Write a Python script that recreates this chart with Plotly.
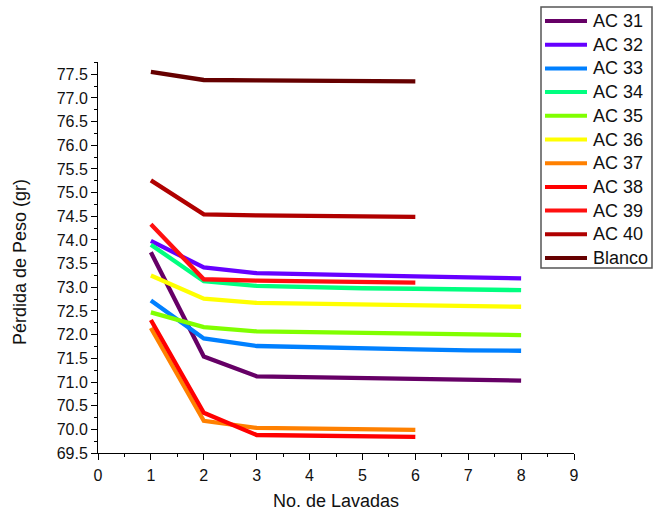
import plotly.graph_objects as go

# Washes (x) and weight-loss series (y), one list per sample
lavadas_6 = [1, 2, 3, 4, 5, 6]
lavadas_8 = [1, 2, 3, 4, 5, 6, 7, 8]

ac31 = [73.74, 71.54, 71.12, 71.10, 71.08, 71.06, 71.05, 71.03]
ac32 = [73.98, 73.42, 73.30, 73.27, 73.25, 73.23, 73.21, 73.19]
ac33 = [72.72, 71.92, 71.76, 71.73, 71.71, 71.69, 71.67, 71.66]
ac34 = [73.90, 73.13, 73.03, 73.00, 72.98, 72.97, 72.95, 72.94]
ac35 = [72.47, 72.16, 72.07, 72.05, 72.03, 72.02, 72.00, 71.99]
ac36 = [73.25, 72.76, 72.67, 72.65, 72.63, 72.62, 72.60, 72.59]
ac37 = [72.14, 70.18, 70.03, 70.01, 70.00, 69.99]
ac38 = [72.31, 70.35, 69.88, 69.86, 69.85, 69.84]
ac39 = [74.33, 73.17, 73.14, 73.12, 73.11, 73.10]
ac40 = [75.26, 74.54, 74.52, 74.51, 74.50, 74.49]
blanco = [77.55, 77.38, 77.37, 77.37, 77.36, 77.35]

series = [
    ("AC 31", lavadas_8, ac31, "#660066"),
    ("AC 32", lavadas_8, ac32, "#6600FF"),
    ("AC 33", lavadas_8, ac33, "#0080FF"),
    ("AC 34", lavadas_8, ac34, "#00FF80"),
    ("AC 35", lavadas_8, ac35, "#80FF00"),
    ("AC 36", lavadas_8, ac36, "#FFFF00"),
    ("AC 37", lavadas_6, ac37, "#FF8000"),
    ("AC 38", lavadas_6, ac38, "#FF0000"),
    ("AC 39", lavadas_6, ac39, "#FF1010"),
    ("AC 40", lavadas_6, ac40, "#B00000"),
    ("Blanco", lavadas_6, blanco, "#660000"),
]

W, H = 668, 516
ML, MR, MT, MB = 98, 94, 62, 63
PW, PH = W - ML - MR, H - MT - MB


def px_x(p):
    """pixel column -> paper x"""
    return (p - ML) / PW


def px_y(p):
    """pixel row -> paper y"""
    return (H - MB - p) / PH


fig = go.Figure()
for name, xs, ys, color in series:
    fig.add_trace(go.Scatter(
        x=xs, y=ys, name=name, mode="lines",
        line=dict(color=color, width=4.3),
        showlegend=False,
    ))

font = "Arial, Liberation Sans, sans-serif"

# Boxed legend at the top right, drawn with shapes and annotations
shapes = [dict(
    type="rect", xref="paper", yref="paper",
    x0=px_x(541), x1=px_x(652), y0=px_y(268), y1=px_y(7),
    line=dict(color="#555", width=1.5), fillcolor="rgba(0,0,0,0)",
)]
annotations = []
row0, row_step = 21.0, 23.7
for i, (name, _, _, color) in enumerate(series):
    yy = px_y(row0 + i * row_step)
    shapes.append(dict(
        type="line", xref="paper", yref="paper",
        x0=px_x(545), x1=px_x(587), y0=yy, y1=yy,
        line=dict(color=color, width=4),
    ))
    annotations.append(dict(
        xref="paper", yref="paper", x=px_x(591), y=yy,
        xanchor="left", yanchor="middle", showarrow=False,
        text=name, font=dict(family=font, size=18, color="#111"),
    ))

# Axis titles
annotations.append(dict(
    xref="paper", yref="paper", x=px_x(336), y=px_y(501),
    xanchor="center", yanchor="middle", showarrow=False,
    text="No. de Lavadas", font=dict(family=font, size=18, color="#111"),
))
annotations.append(dict(
    xref="paper", yref="paper", x=px_x(20), y=px_y(262),
    xanchor="center", yanchor="middle", showarrow=False, textangle=-90,
    text="Pérdida de Peso (gr)", font=dict(family=font, size=18, color="#111"),
))

fig.update_layout(
    width=W, height=H,
    margin=dict(l=ML, r=MR, t=MT, b=MB),
    paper_bgcolor="white", plot_bgcolor="white",
    font=dict(family=font, color="#111", size=16),
    showlegend=False,
    shapes=shapes,
    annotations=annotations,
    xaxis=dict(
        range=[0, 9], dtick=1, tick0=0,
        showgrid=False, zeroline=False, automargin=False,
        showline=True, linecolor="black", linewidth=1,
        ticks="outside", ticklen=6, tickcolor="black",
        minor=dict(dtick=0.5, ticks="outside", ticklen=3, tickcolor="black"),
        tickfont=dict(size=16), ticklabelstandoff=2,
    ),
    yaxis=dict(
        range=[69.5, 77.76], dtick=0.5, tick0=69.5, tickformat=".1f",
        showgrid=False, zeroline=False, automargin=False,
        showline=True, linecolor="black", linewidth=1,
        ticks="outside", ticklen=6, tickcolor="black",
        minor=dict(dtick=0.25, ticks="outside", ticklen=3, tickcolor="black"),
        tickfont=dict(size=16),
    ),
)

fig.write_html("out.html")
